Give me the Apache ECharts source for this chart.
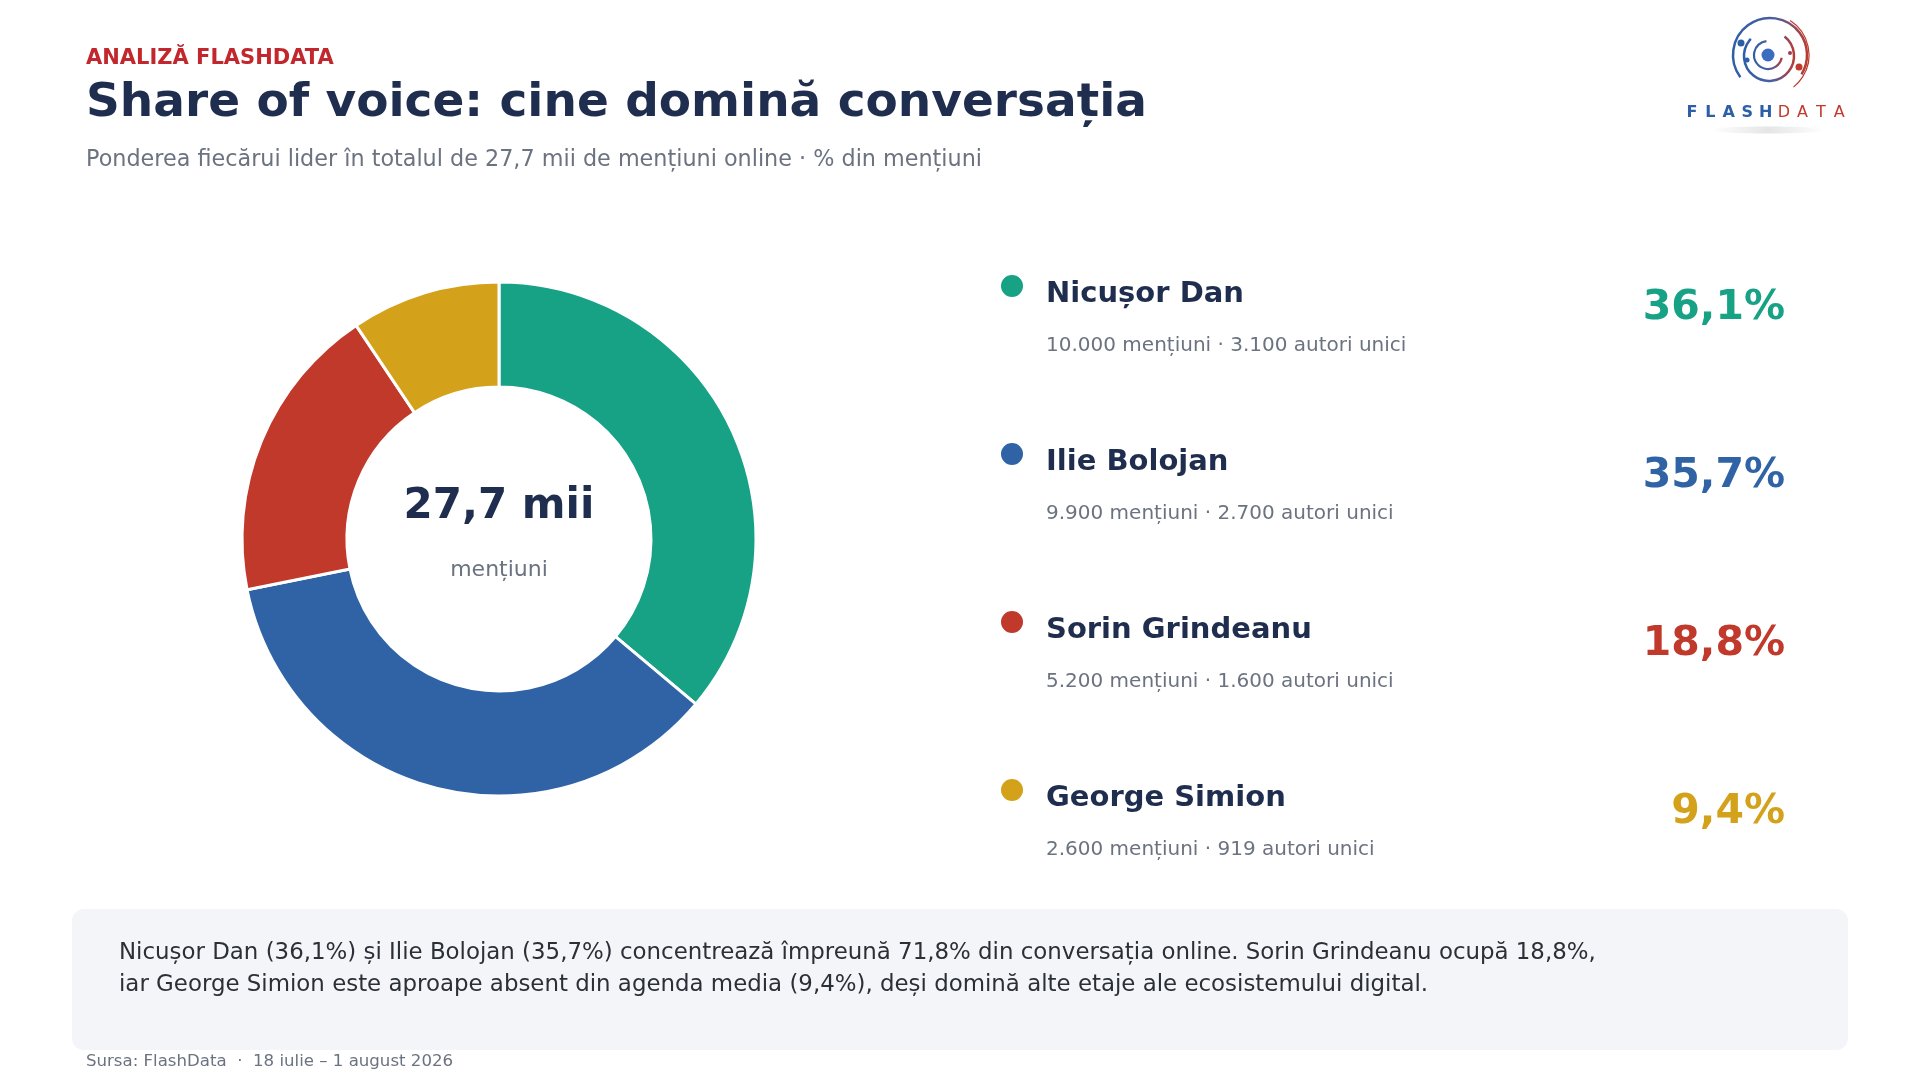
<!DOCTYPE html>
<html lang="ro">
<head>
<meta charset="utf-8">
<title>Share of voice</title>
<script src="https://cdn.jsdelivr.net/npm/echarts@6/dist/echarts.min.js"></script>
<style>
    html, body { margin: 0; padding: 0; background: #fff; }
    #chart { width: 1920px; height: 1080px; }
</style>
</head>
<body>
<div id="chart"></div>
<script>
// Date
const candidates = ['Nicușor Dan', 'Ilie Bolojan', 'Sorin Grindeanu', 'George Simion'];
const mentions = [10000, 9900, 5200, 2600];
const authors = [3100, 2700, 1600, 919];
const shares = [36.1, 35.7, 18.8, 9.4];
const colors = ['#17a185', '#2f63a6', '#c0392b', '#d4a21a'];

const FONT = '"DejaVu Sans", sans-serif';
const NAVY = '#1f2d4e';
const GRAY = '#6b7280';

function fmtInt(n) {
    return String(n).replace(/\B(?=(\d{3})+(?!\d))/g, '.');
}
function fmtPct(v) {
    return v.toFixed(1).replace('.', ',') + '%';
}

const total = mentions.reduce((a, b) => a + b, 0);
const totalLabel = (total / 1000).toFixed(1).replace('.', ',') + ' mii';

// lista din dreapta
const rows = [];
candidates.forEach(function (name, i) {
    const y = 294 + i * 168;
    rows.push({
        type: 'circle',
        shape: { cx: 1012, cy: y - 8, r: 11 },
        style: { fill: colors[i] }
    });
    rows.push({
        type: 'text', x: 1046, y: y,
        style: { text: name, font: 'bold 29px ' + FONT, fill: NAVY, verticalAlign: 'middle' }
    });
    rows.push({
        type: 'text', x: 1046, y: y + 52,
        style: {
            text: fmtInt(mentions[i]) + ' mențiuni · ' + fmtInt(authors[i]) + ' autori unici',
            font: '20px ' + FONT, fill: GRAY, verticalAlign: 'middle'
        }
    });
    rows.push({
        type: 'text', x: 1785, y: y + 14,
        style: { text: fmtPct(shares[i]), font: 'bold 41px ' + FONT, fill: colors[i], align: 'right', verticalAlign: 'middle' }
    });
});

// logo
const spiralGrad = new echarts.graphic.LinearGradient(0, 0, 1, 0, [
    { offset: 0, color: '#2d5fa6' },
    { offset: 0.55, color: '#4a5fa0' },
    { offset: 1, color: '#c0392b' }
]);
const logo = [
    {
        type: 'ellipse',
        shape: { cx: 1768, cy: 130, rx: 58, ry: 3.5 },
        style: {
            fill: new echarts.graphic.LinearGradient(0, 0, 1, 0, [
                { offset: 0, color: 'rgba(0,0,0,0)' },
                { offset: 0.5, color: 'rgba(0,0,0,0.10)' },
                { offset: 1, color: 'rgba(0,0,0,0)' }
            ])
        }
    },
    { type: 'arc', shape: { cx: 1770, cy: 55, r: 37, startAngle: 2.5, endAngle: 0.55 + Math.PI * 2, clockwise: true },
      style: { stroke: spiralGrad, lineWidth: 2.5, fill: null } },
    { type: 'arc', shape: { cx: 1768, cy: 55, r: 41, startAngle: -1.0, endAngle: 0.9, clockwise: true },
      style: { stroke: '#c0392b', lineWidth: 1.2, fill: null } },
    { type: 'arc', shape: { cx: 1769, cy: 56, r: 25, startAngle: -0.9, endAngle: 3.9, clockwise: true },
      style: { stroke: spiralGrad, lineWidth: 2.5, fill: null } },
    { type: 'arc', shape: { cx: 1768, cy: 55, r: 14, startAngle: 0.2, endAngle: 4.6, clockwise: true },
      style: { stroke: spiralGrad, lineWidth: 2.2, fill: null } },
    { type: 'circle', shape: { cx: 1768, cy: 55, r: 6.5 }, style: { fill: '#3b6cc0' } },
    { type: 'circle', shape: { cx: 1741, cy: 43, r: 3.5 }, style: { fill: '#2d5fa6' } },
    { type: 'circle', shape: { cx: 1747, cy: 60, r: 2.5 }, style: { fill: '#2d5fa6' } },
    { type: 'circle', shape: { cx: 1799, cy: 67, r: 3.5 }, style: { fill: '#c0392b' } },
    { type: 'circle', shape: { cx: 1790, cy: 53, r: 2 }, style: { fill: '#a33a55' } }
];
'FLASHDATA'.split('').forEach(function (ch, i) {
    logo.push({
        type: 'text', x: 1692 + i * 18.4, y: 113,
        style: {
            text: ch,
            font: (i < 5 ? 'bold ' : '') + '16px ' + FONT,
            fill: i < 5 ? '#2d5fa6' : '#c0392b',
            align: 'center', verticalAlign: 'middle'
        }
    });
});

const option = {
    backgroundColor: '#ffffff',
    animation: false,
    textStyle: { fontFamily: FONT },
    series: [
        {
            name: 'Share of voice',
            type: 'pie',
            center: [499, 539],
            radius: [152, 257],
            startAngle: 90,
            clockwise: true,
            silent: true,
            label: { show: false },
            labelLine: { show: false },
            itemStyle: { borderColor: '#ffffff', borderWidth: 3 },
            data: candidates.map(function (name, i) {
                return { name: name, value: mentions[i], itemStyle: { color: colors[i] } };
            })
        }
    ],
    graphic: [
        { type: 'text', x: 86, y: 59,
          style: { text: 'ANALIZĂ FLASHDATA', font: 'bold 21px ' + FONT, fill: '#c1272d', verticalAlign: 'middle' } },
        { type: 'text', x: 86, y: 104,
          style: { text: 'Share of voice: cine domină conversația', font: 'bold 47px ' + FONT, fill: NAVY, verticalAlign: 'middle' } },
        { type: 'text', x: 86, y: 160,
          style: { text: 'Ponderea fiecărui lider în totalul de 27,7 mii de mențiuni online · % din mențiuni', font: '22.3px ' + FONT, fill: GRAY, verticalAlign: 'middle' } },

        // centrul inelului
        { type: 'text', x: 499, y: 507,
          style: { text: totalLabel, font: 'bold 42px ' + FONT, fill: NAVY, align: 'center', verticalAlign: 'middle' } },
        { type: 'text', x: 499, y: 570,
          style: { text: 'mențiuni', font: '22px ' + FONT, fill: GRAY, align: 'center', verticalAlign: 'middle' } },

        // caseta de concluzie
        { type: 'rect', shape: { x: 72, y: 909, width: 1776, height: 141, r: 12 }, style: { fill: '#f4f5f9' } },
        { type: 'text', x: 119, y: 953,
          style: { text: 'Nicușor Dan (36,1%) și Ilie Bolojan (35,7%) concentrează împreună 71,8% din conversația online. Sorin Grindeanu ocupă 18,8%,',
                   font: '22.9px ' + FONT, fill: '#2b2f36', verticalAlign: 'middle' } },
        { type: 'text', x: 119, y: 985,
          style: { text: 'iar George Simion este aproape absent din agenda media (9,4%), deși domină alte etaje ale ecosistemului digital.',
                   font: '22.9px ' + FONT, fill: '#2b2f36', verticalAlign: 'middle' } },

        { type: 'text', x: 86, y: 1062,
          style: { text: 'Sursa: FlashData  ·  18 iulie – 1 august 2026', font: '16.6px ' + FONT, fill: GRAY, verticalAlign: 'middle' } }
    ].concat(rows, logo)
};

const chart = echarts.init(document.getElementById('chart'));
chart.setOption(option);
</script>
</body>
</html>
